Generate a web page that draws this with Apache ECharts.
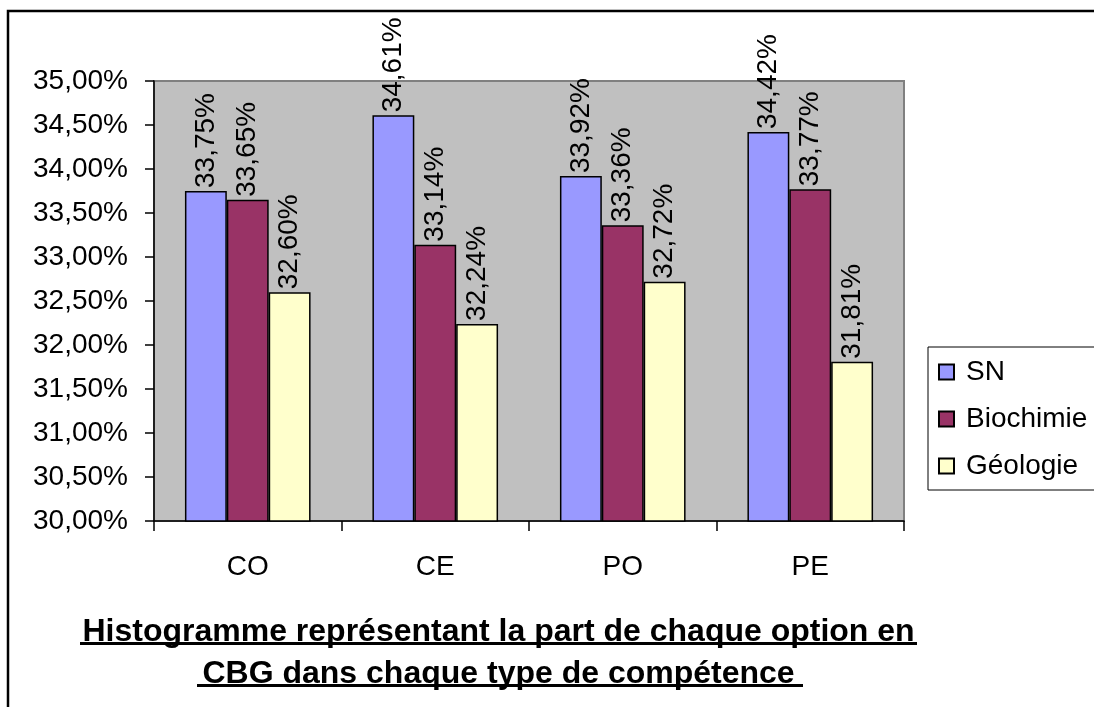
<!DOCTYPE html>
<html>
<head>
<meta charset="utf-8">
<script src="https://cdn.jsdelivr.net/npm/echarts@6/dist/echarts.min.js"></script>
<style>
html,body{margin:0;padding:0;background:#fff;}
#chart{width:1094px;height:707px;}
</style>
</head>
<body>
<div id="chart"></div>
<script>
const categories = ['CO', 'CE', 'PO', 'PE'];
const seriesNames = ['SN', 'Biochimie', 'Géologie'];
const snValues = [33.75, 34.61, 33.92, 34.42];
const biochimieValues = [33.65, 33.14, 33.36, 33.77];
const geologieValues = [32.60, 32.24, 32.72, 31.81];
const colors = ['#9999FF', '#993366', '#FFFFCC'];
const titleLines = ['Histogramme représentant la part de chaque option en ', 'CBG dans chaque type de compétence '];

const FONT = 'Liberation Sans, Arial, sans-serif';
const fmt = v => v.toFixed(2).replace('.', ',') + '%';

const chart = echarts.init(document.getElementById('chart'), null, {renderer: 'canvas'});

function mkSeries(name, data, color) {
  return {
    name: name,
    type: 'bar',
    data: data,
    barGap: '0%',
    barCategoryGap: '33%',
    itemStyle: {color: color, borderColor: '#000', borderWidth: 1.5},
    label: {
      show: true,
      position: 'top',
      rotate: 90,
      align: 'left',
      verticalAlign: 'middle',
      distance: 3,
      fontSize: 28,
      fontFamily: FONT,
      color: '#000',
      formatter: p => fmt(p.value)
    }
  };
}

chart.setOption({
  animation: false,
  textStyle: {fontFamily: FONT},
  title: {
    text: titleLines.join('\n'),
    left: 498,
    top: 606,
    textAlign: 'center',
    textStyle: {fontSize: 32, fontWeight: 'bold', color: '#000', fontFamily: FONT, lineHeight: 42}
  },
  graphic: [
    {type: 'rect', shape: {x: 8, y: 11, width: 1200, height: 800}, style: {fill: 'none', stroke: '#000', lineWidth: 2.5}, silent: true},
    {type: 'rect', shape: {x: 80, y: 642, width: 837, height: 3}, style: {fill: '#000'}, silent: true},
    {type: 'rect', shape: {x: 197, y: 684, width: 606, height: 3}, style: {fill: '#000'}, silent: true}
  ],
  legend: {
    orient: 'vertical',
    left: 928,
    top: 347,
    borderColor: '#000',
    borderWidth: 1,
    borderRadius: 0,
    padding: [11, 60, 10, 10],
    itemWidth: 15,
    itemHeight: 15,
    itemGap: 19,
    icon: 'rect',
    textStyle: {fontSize: 28, color: '#000', fontFamily: FONT, padding: [0, 0, 0, 7]},
    data: seriesNames
  },
  grid: {
    left: 154, right: 190, top: 81, bottom: 186,
    show: true, backgroundColor: '#C0C0C0', borderColor: '#808080', borderWidth: 2
  },
  xAxis: {
    type: 'category',
    data: categories,
    axisLine: {lineStyle: {color: '#000', width: 1.5}},
    axisTick: {show: true, length: 10, lineStyle: {color: '#000', width: 1.5}},
    axisLabel: {fontSize: 28, color: '#000', margin: 32, fontFamily: FONT}
  },
  yAxis: {
    type: 'value',
    min: 30,
    max: 35,
    interval: 0.5,
    axisLine: {show: true, lineStyle: {color: '#000', width: 1.5}},
    axisTick: {show: true, length: 9, lineStyle: {color: '#000', width: 1.5}},
    splitLine: {show: false},
    axisLabel: {fontSize: 28, color: '#000', margin: 26, fontFamily: FONT, formatter: v => fmt(v)}
  },
  series: [
    mkSeries(seriesNames[0], snValues, colors[0]),
    mkSeries(seriesNames[1], biochimieValues, colors[1]),
    mkSeries(seriesNames[2], geologieValues, colors[2])
  ]
});
</script>
</body>
</html>
